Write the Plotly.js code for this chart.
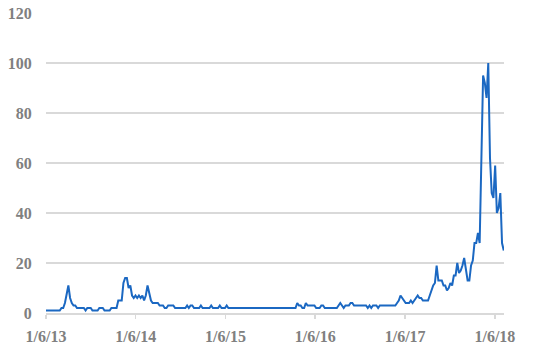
<!DOCTYPE html>
<html>
<head>
<meta charset="utf-8">
<script src="https://cdn.plot.ly/plotly-3.0.1.min.js"></script>
<style>html,body{margin:0;padding:0;background:#fff}#myDiv{width:550px;height:346px}</style>
</head>
<body>
<div id="myDiv"></div>
<script>
// weekly values, first week starts 1/6/13
var trend2013 = [1,1,1,1,1,1,1,1,1, 2,2,4,7,11,6,4,3,3, 2,2,2,2,2,1,2,2,2,
  1,1,1,1,2,2,2,1,1,1,1, 2,2,2,2,5,5,5,12,14,14,10,11,7,6];
var trend2014 = [7,6,7,6,7,5,7,11,8,5, 4,4,4,4,3,3,3,2,2, 3,3,3,3,2,2,2,2,2,2,2,
  3,2,3,3,2,2,2,2,3,2, 2,2,2,2,3,2,2,2,2,3,2,2];
var trend2015 = [2,3,2, 2,2,2,2,2,2,2,2,2,2,2,2,2,2,2,2,2,2,2,2,2,2,2,2,2,2,2,2,2,2,2,2,2,2,2,2,2,2,2,
  4,3,3,2,2,4,3,3,3,3];
var trend2016 = [3,2,2,2,3,3,2, 2,2,2,2,2,2,2, 3,4,3,2,3,3,3,4,4,3, 3,3,3,3,3,3,3,
  2,3,2,3,3,3,2, 3,3,3,3,3,3,3,3, 3,3,4,5,7,6];
var trend2017 = [5,4,4,4,5,4,5,6,7,6,6, 5,5,5,5,7,9,11,12, 19,13,13,13,11,11,9,10,12,11,
  15,15,20,16,17,19,22,17,13,13, 19,21,28,28,32,28,62, 95,92,86,100,62,48];
var trend2018 = [46,59,40,42,48,28,25];

var startDate = '2013-01-06';
var tickVals = ['2013-01-06','2014-01-06','2015-01-06','2016-01-06','2017-01-06','2018-01-06'];
var tickText = ['1/6/13','1/6/14','1/6/15','1/6/16','1/6/17','1/6/18'];

var values = trend2013.concat(trend2014, trend2015, trend2016, trend2017, trend2018);
var dates = [];
var t0 = Date.parse(startDate + 'T00:00:00Z');
for (var i = 0; i < values.length; i++) {
  dates.push(new Date(t0 + i * 7 * 86400000).toISOString().slice(0, 10));
}

var tickFont = {family: 'Liberation Serif, Times New Roman, serif', size: 16, color: '#808080', weight: 'bold'};

var trace = {
  x: dates,
  y: values,
  type: 'scatter',
  mode: 'lines',
  line: {color: '#1b68c2', width: 2},
  hoverinfo: 'skip'
};

var layout = {
  width: 550,
  height: 346,
  margin: {l: 46, r: 46, t: 13, b: 33},
  paper_bgcolor: '#fff',
  plot_bgcolor: '#fff',
  showlegend: false,
  xaxis: {
    type: 'date',
    range: ['2013-01-06', '2018-02-12'],
    tickvals: tickVals,
    ticktext: tickText,
    ticks: 'outside',
    ticklen: 4,
    tickwidth: 1.5,
    tickcolor: '#d9d9d9',
    ticklabelstandoff: 4,
    showgrid: false,
    zeroline: false,
    showline: true,
    linecolor: '#d9d9d9',
    linewidth: 1.5,
    tickfont: tickFont
  },
  yaxis: {
    range: [0, 120],
    tickvals: [0, 20, 40, 60, 80, 100, 120],
    gridcolor: '#d9d9d9',
    gridwidth: 1.5,
    zeroline: false,
    showline: false,
    ticks: 'outside',
    ticklen: 10,
    tickcolor: 'rgba(0,0,0,0)',
    tickfont: tickFont
  }
};

Plotly.newPlot('myDiv', [trace], layout, {staticPlot: true, displayModeBar: false});
</script>
</body>
</html>
